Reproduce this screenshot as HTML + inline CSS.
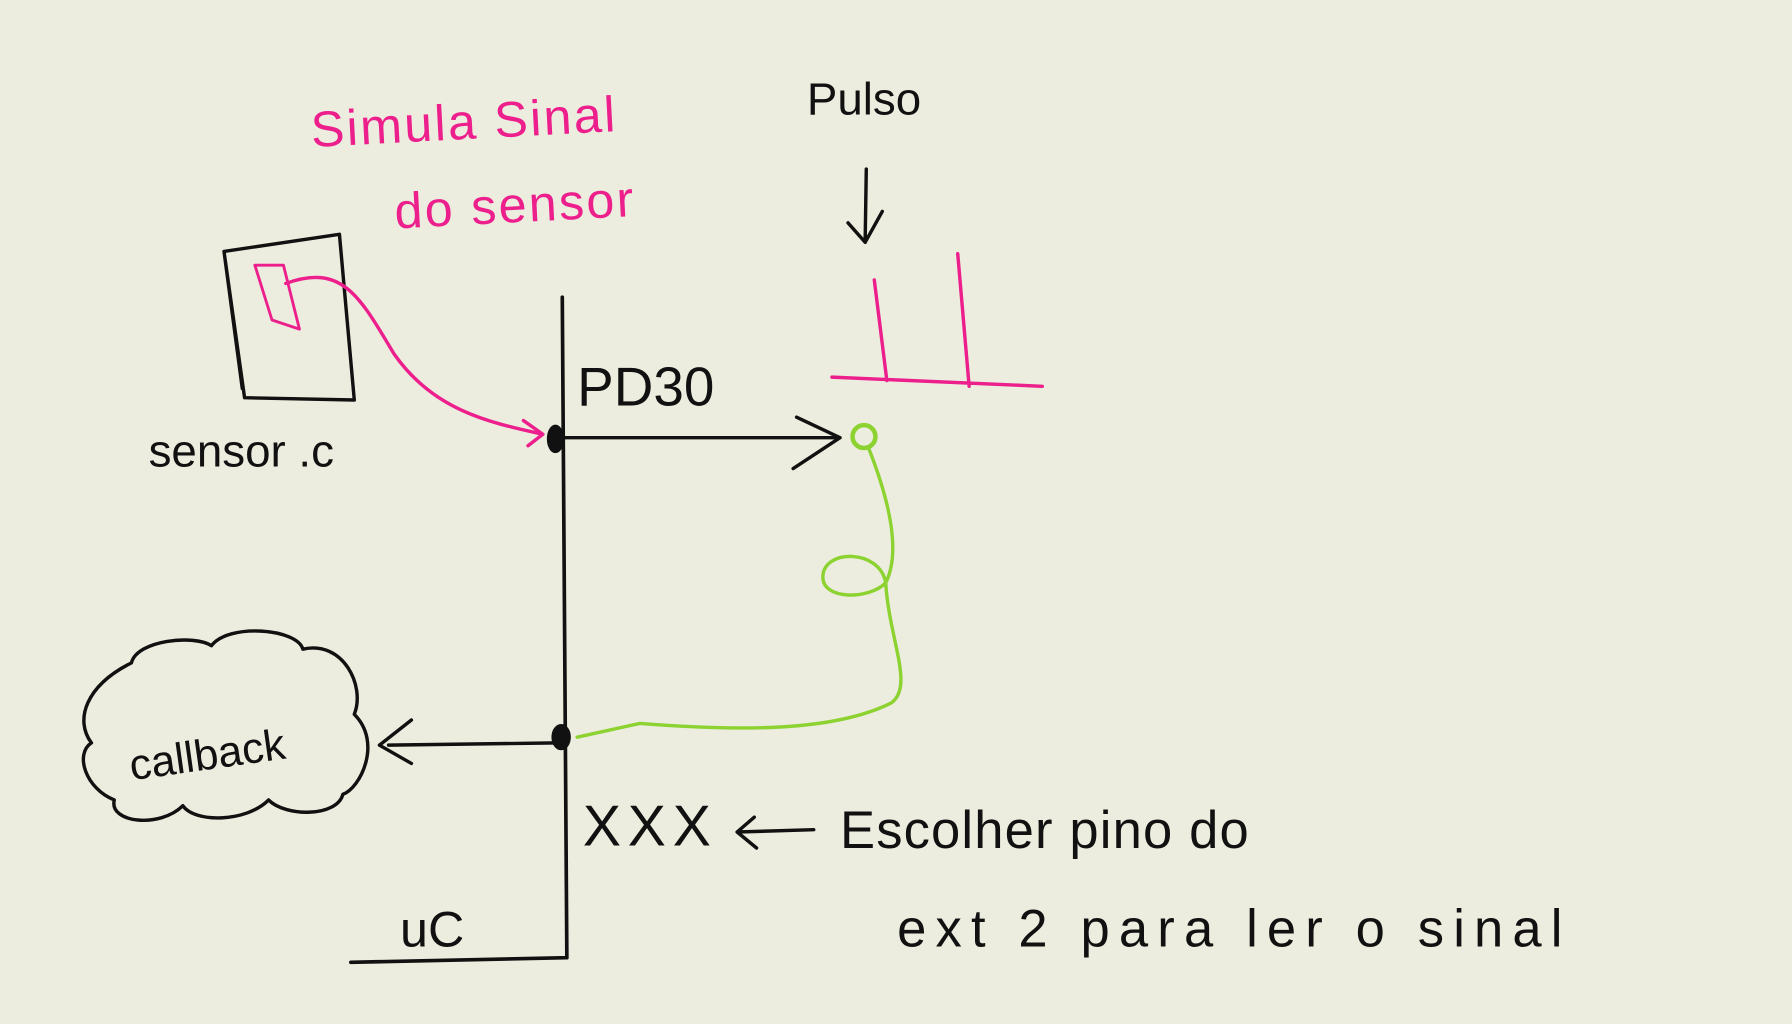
<!DOCTYPE html>
<html><head><meta charset="utf-8"><style>
html,body{margin:0;padding:0;background:#ededdf;}
svg{display:block}
text{font-family:"Liberation Sans",sans-serif;}
</style></head><body>
<svg width="1792" height="1024" viewBox="0 0 1568 896" xmlns="http://www.w3.org/2000/svg">
<rect width="1568" height="896" fill="#ededdf"/>
<g fill="none" stroke-linecap="round" stroke-linejoin="round">
<text x="272" y="122" font-size="44" fill="#ec1f8c" stroke="none" letter-spacing="2" transform="rotate(-3 400 110)">Simula Sinal</text>
<text x="345" y="195" font-size="44" fill="#ec1f8c" stroke="none" letter-spacing="2" transform="rotate(-3 440 180)">do sensor</text>
<text x="706" y="100" font-size="40" fill="#111" stroke="none" font-weight="300">Pulso</text>
<path d="M758 148 L757 212 M742 195 L757 212 L772 185" stroke="#111" stroke-width="3"/>
<path d="M728 330 L912 338 M765 245 L776 333 M838 222 L848 338" stroke="#ec1f8c" stroke-width="3"/>
<path d="M196 220 L297 205 L310 350 L214 348 Z M196 220 L212 340" stroke="#111" stroke-width="3"/>
<path d="M223 232 L238 280 L262 288 L248 232 Z" stroke="#ec1f8c" stroke-width="2.5"/>
<path d="M250 248 C300 230 315 260 345 310 C380 360 430 370 475 380 M458 368 L475 380 L462 390" stroke="#ec1f8c" stroke-width="3"/>
<text x="130" y="408" font-size="40" fill="#111" stroke="none">sensor .c</text>
<path d="M492 260 L496 838 L307 842" stroke="#111" stroke-width="3.2"/>
<text x="505" y="355" font-size="48" fill="#111" stroke="none">PD30</text>
<ellipse cx="486" cy="384" rx="7" ry="12" fill="#111" stroke="#111"/>
<path d="M492 383 L735 383 M697 365 L735 383 L694 410" stroke="#111" stroke-width="3"/>
<circle cx="756" cy="382" r="10" stroke="#8cd230" stroke-width="4"/>
<path d="M760 392 C775 430 790 480 775 510 C760 525 720 525 720 505 C720 480 770 480 775 510 C778 560 800 600 780 615 C730 640 650 640 560 633 L505 645" stroke="#8cd230" stroke-width="3"/>
<ellipse cx="491" cy="645" rx="8" ry="11" fill="#111" stroke="#111"/>
<path d="M488 650 L340 652 M360 630 L332 652 L360 668" stroke="#111" stroke-width="3"/>
<path d="M115 580 C120 560 170 555 185 565 C200 545 260 550 265 568 C300 560 320 600 310 625 C335 650 315 690 300 695 C295 715 250 715 235 700 C215 720 170 720 160 705 C140 725 95 720 100 700 C75 690 65 660 80 650 C65 630 75 600 115 580" stroke="#111" stroke-width="3"/>
<text x="112" y="672" font-size="38" fill="#111" stroke="none" transform="rotate(-8 190 655)">callback</text>
<text x="510" y="740" font-size="50" fill="#111" stroke="none" letter-spacing="6">XXX</text>
<path d="M712 726 L645 728 M660 715 L645 728 L662 742" stroke="#111" stroke-width="3"/>
<text x="735" y="742" font-size="46" fill="#111" stroke="none" letter-spacing="1">Escolher pino do</text>
<text x="785" y="828" font-size="46" fill="#111" stroke="none" letter-spacing="8">ext 2 para ler o sinal</text>
<text x="350" y="828" font-size="44" fill="#111" stroke="none">uC</text>
</g>
</svg>
</body></html>
